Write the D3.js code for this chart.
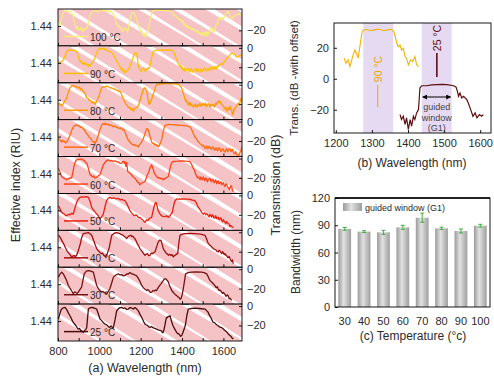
<!DOCTYPE html>
<html><head><meta charset="utf-8">
<script src="https://cdn.jsdelivr.net/npm/d3@7"></script>
<style>body{margin:0;background:#fff}svg{display:block}</style>
</head><body>
<svg id="c" width="494" height="379"></svg>
<script>
// ---------------- DATA ----------------
const rowLabels = ["100 °C","90 °C","80 °C","70 °C","60 °C","50 °C","40 °C","30 °C","25 °C"];
const rowColors = ["#f6ec7a","#ffbf00","#ff9a00","#ff6c10","#ff4314","#e8200e","#a30f0f","#741212","#4a0d0d"];
const xTicksA = [800,900,1000,1100,1200,1300,1400,1500,1600];
const xLabelsA = [800,1000,1200,1400,1600];
const indexTicks = [1.44];
const dbTicks = [-20, 0];

const s100 = [[809,-15],[814,-11],[818,-8],[822,-4],[826,-1.5],[834,0],[842,0.3],[850,-0.5],[858,-0.4],[866,-1.4],[870,-4],[874,-6.6],[878,-10],[882,-13.4],[886,-16],[890,-18.6],[894,-16.5],[898,-17.5],[902,-20],[906,-19.6],[910,-17],[914,-18],[918,-20.5],[922,-21],[926,-18],[930,-19],[935,-17],[939,-18.6],[943,-16],[947,-13.4],[951,-9],[955,-4.9],[960,-2],[966,-0.4],[976,0],[987,0.3],[995,-1.5],[1000,-0.5],[1005,1.5],[1011,1],[1017,-0.5],[1022,0],[1030,1],[1035,-0.4],[1042,0.5],[1048,-1.5],[1055,0],[1060,-1.1],[1066,-2.5],[1072,-4.9],[1078,-9],[1084,-13.4],[1090,-16],[1095,-15],[1100,-18.6],[1106,-17],[1110,-21],[1116,-21],[1121,-18],[1127,-17.5],[1132,-20],[1137,-22],[1142,-16],[1148,-10],[1153,-5],[1159,-1.4],[1164,-1.5],[1169,-3.1],[1175,-5],[1180,-8.3],[1186,-12],[1192,-16.9],[1196,-19],[1200,-21],[1204,-20],[1208,-23.7],[1214,-25],[1218,-23],[1221,-27.2],[1225,-25],[1228,-24],[1234,-22],[1240,-16],[1245,-10],[1250,-4],[1256,-0.4],[1270,0.5],[1285,1],[1300,0.5],[1318,0.3],[1333,0],[1346,-0.4],[1352,-1.5],[1358,-3.1],[1366,-5],[1374,-6.6],[1380,-7],[1386,-9],[1392,-8.5],[1398,-11.7],[1404,-10],[1410,-14.5],[1416,-13],[1422,-16.9],[1428,-15],[1434,-18],[1440,-17],[1446,-19.6],[1452,-18],[1458,-20.5],[1464,-19],[1471,-22],[1477,-20],[1483,-24],[1489,-22.5],[1495,-25.4],[1499,-23],[1503,-22],[1507,-25],[1511,-23],[1515,-21],[1519,-26],[1523,-22],[1527,-24.4],[1531,-21],[1535,-20],[1539,-18],[1543,-16.9],[1547,-20],[1550,-22],[1556,-21],[1560,-17],[1564,-15],[1568,-13],[1572,-11.7],[1578,-8],[1583,-6.6],[1587,-8],[1591,-9],[1596,-7],[1600,-8.3],[1606,-5],[1611,-3.1],[1618,-1],[1624,-0.4],[1628,-3],[1632,-5],[1636,-7],[1640,-8.3],[1648,-6],[1656,-4.9],[1665,-3.5],[1675,-3.1],[1685,-4.5],[1690,-5.9]];
const s90 = [[803,-15],[809,-15.8],[818,-14],[826,-12.4],[834,-8],[842,-3.8],[850,-2.5],[858,-2.1],[870,-2.5],[882,-2.8],[889,-3.5],[895,-5.5],[900,-10],[906,-14.1],[910,-13],[914,-16],[918,-15],[922,-17.5],[926,-15],[930,-15.5],[935,-18],[939,-16.5],[943,-17],[947,-19],[951,-17],[955,-18.5],[959,-17.5],[963,-16],[967,-15],[971,-14.1],[979,-10],[987,-5.5],[995,-2],[1003,-0.4],[1009,-1.5],[1015,-1],[1021,0],[1027,-2.1],[1034,-1.5],[1040,-3],[1051,-3.8],[1060,-5],[1068,-7.2],[1076,-10],[1084,-14.1],[1090,-15.5],[1096,-18],[1102,-20],[1108,-22.7],[1112,-21.5],[1116,-24.5],[1120,-23.5],[1124,-26.1],[1128,-24.5],[1132,-24],[1136,-23],[1140,-22.7],[1150,-18],[1159,-12.4],[1166,-8],[1172,-5.5],[1177,-5],[1182,-7.2],[1188,-17.5],[1195,-22],[1201,-24.4],[1207,-22],[1213,-21],[1217,-23],[1221,-24],[1225,-21.5],[1229,-22.7],[1233,-21],[1237,-20.5],[1241,-21.5],[1245,-19.2],[1251,-12],[1258,-5.5],[1264,-3.5],[1269,-2.8],[1285,-2.4],[1301,-2.1],[1320,-2.5],[1342,-2.1],[1350,-2.8],[1358,-3.8],[1366,-8],[1374,-12.4],[1382,-16.5],[1390,-19.2],[1394,-18],[1398,-21.5],[1402,-20],[1406,-22.7],[1410,-24],[1414,-20.5],[1418,-22],[1422,-23.5],[1426,-21],[1430,-22],[1434,-24],[1438,-25],[1442,-21.5],[1446,-22.5],[1450,-25],[1454,-24.4],[1458,-22],[1462,-21.5],[1466,-23],[1470,-24.5],[1474,-21],[1479,-22.7],[1483,-24],[1487,-25],[1491,-22],[1495,-21.8],[1499,-24],[1503,-23.4],[1507,-21],[1511,-21],[1515,-23],[1519,-24],[1523,-21.5],[1527,-22],[1531,-23.5],[1535,-20],[1539,-21],[1543,-23],[1547,-20],[1551,-21],[1555,-22],[1559,-19],[1563,-20.5],[1567,-21.5],[1571,-18.5],[1575,-19.2],[1579,-18],[1583,-17],[1588,-16.5],[1592,-15.8],[1596,-17],[1600,-16.5],[1604,-14],[1608,-14.1],[1612,-12],[1616,-11],[1620,-10],[1624,-9],[1632,-7],[1640,-5.5],[1648,-6],[1656,-7.2],[1664,-9.5],[1672,-9],[1682,-7.5],[1690,-8.3]];
const s80 = [[802,-20.3],[806,-19],[810,-21],[814,-20],[818,-22],[822,-21],[826,-19.5],[834,-16.5],[842,-13.5],[850,-8],[858,-3.2],[866,-1.5],[874,-0.8],[880,-2],[886,-1.5],[892,-3],[898,-3.2],[904,-2.5],[910,-5],[916,-4.5],[922,-6.6],[930,-9],[939,-13.5],[945,-14],[951,-16.5],[957,-16],[963,-18.6],[967,-17.5],[971,-19],[975,-18],[979,-20.3],[987,-17],[995,-13.5],[1003,-8],[1011,-3.2],[1019,-2],[1027,-2.5],[1035,-1.5],[1043,-2.1],[1051,-3.5],[1060,-3],[1068,-4.5],[1076,-4.2],[1082,-5.8],[1088,-5.5],[1094,-7],[1100,-6.6],[1108,-10],[1116,-15.2],[1122,-17],[1128,-20],[1134,-21],[1140,-23.8],[1146,-23],[1152,-25.5],[1158,-24.5],[1164,-27.2],[1170,-25],[1176,-24],[1182,-23],[1188,-22],[1198,-15],[1208,-8.3],[1213,-5],[1217,-3.2],[1223,-4],[1229,-6.6],[1235,-14],[1240,-20.3],[1246,-18],[1253,-15.2],[1260,-10],[1266,-6.6],[1272,-2],[1277,0.3],[1300,1],[1334,1.3],[1360,0.8],[1382,0.3],[1390,-1],[1398,-3.2],[1408,-10],[1413,-14],[1417,-16.9],[1421,-16],[1425,-18.5],[1429,-20],[1432,-21],[1436,-18],[1440,-19],[1443,-21.5],[1446,-20.3],[1450,-22],[1455,-23],[1459,-21],[1463,-20],[1467,-23],[1471,-22.5],[1475,-20],[1479,-22],[1483,-21],[1487,-19],[1491,-22],[1495,-21.5],[1499,-20],[1503,-19],[1507,-21.5],[1511,-20.3],[1515,-19],[1519,-22.5],[1523,-21],[1527,-19.5],[1531,-21],[1535,-23],[1539,-20],[1543,-22],[1547,-21],[1551,-20],[1555,-23],[1559,-22.5],[1563,-19],[1567,-20.3],[1571,-18],[1575,-17],[1579,-18.5],[1583,-16.9],[1587,-19],[1591,-20],[1596,-21],[1600,-22],[1604,-24],[1608,-25],[1612,-23],[1616,-27.2],[1620,-25],[1624,-24],[1628,-26],[1632,-22],[1636,-25],[1640,-26],[1644,-31],[1648,-28.9],[1652,-26],[1656,-24],[1660,-23],[1664,-22],[1668,-20],[1672,-19],[1676,-21],[1680,-18.6],[1685,-14],[1690,-16.9]];
const s70 = [[802,-17.5],[806,-18.5],[810,-19],[814,-20.5],[818,-21],[822,-19.5],[826,-20.5],[830,-20],[836,-22],[842,-21],[850,-18],[858,-14.1],[866,-9],[874,-5.5],[882,-4],[890,-3.1],[896,-4.5],[902,-4],[908,-6],[914,-5.5],[920,-7],[926,-8],[932,-10.5],[939,-12.4],[945,-14],[951,-16],[957,-17],[963,-19.2],[967,-20.5],[971,-21],[975,-20.5],[979,-22.7],[983,-21],[987,-19],[995,-14.1],[1003,-8],[1011,-3.8],[1017,-2],[1023,-3],[1029,-1.5],[1035,-3.1],[1042,-2.5],[1050,-4],[1058,-3.5],[1068,-5.5],[1076,-4.5],[1084,-6],[1092,-6.5],[1100,-7.2],[1106,-6.5],[1112,-8.5],[1118,-8],[1124,-10.7],[1132,-15],[1140,-19.2],[1146,-20.5],[1152,-22],[1158,-23.5],[1164,-24.4],[1170,-23.5],[1176,-25],[1182,-24.5],[1188,-26.1],[1194,-24],[1200,-22.5],[1207,-20],[1213,-17.5],[1221,-12],[1229,-7.2],[1235,-8],[1240,-10.7],[1246,-16],[1253,-21],[1257,-22],[1261,-23],[1265,-22.5],[1269,-24.4],[1273,-23.5],[1277,-25],[1281,-24],[1285,-26.1],[1289,-25],[1293,-23],[1297,-21],[1301,-19.2],[1309,-10],[1317,-3.8],[1333,-3],[1350,-3.1],[1375,-3.5],[1398,-3.8],[1420,-4.5],[1438,-5.5],[1444,-7],[1450,-10],[1456,-13],[1462,-15.8],[1468,-17],[1475,-20],[1481,-21],[1487,-22.7],[1493,-24],[1499,-25],[1503,-24],[1507,-26],[1511,-27.8],[1515,-26.5],[1519,-25],[1523,-28],[1527,-27.5],[1531,-25.5],[1535,-26.1],[1539,-28],[1543,-28.5],[1547,-26.5],[1551,-26],[1555,-29],[1559,-29.5],[1563,-27],[1567,-27],[1571,-30],[1575,-29],[1579,-27],[1583,-27.8],[1588,-31],[1592,-30],[1596,-28],[1600,-28.5],[1604,-31],[1608,-31.2],[1612,-29],[1616,-28],[1620,-31],[1624,-30],[1628,-28],[1632,-27.8],[1636,-31],[1640,-30],[1644,-28.5],[1648,-31],[1652,-33],[1656,-32.9],[1660,-31],[1664,-34],[1668,-36],[1672,-36],[1678,-33],[1685,-29.5],[1690,-26]];
const s60 = [[802,-10],[806,-12],[810,-14],[814,-16.5],[818,-18.5],[824,-19.5],[830,-20.5],[836,-21],[842,-22],[848,-20.5],[854,-21],[860,-19.5],[866,-20.3],[872,-14],[879,-6.5],[885,-3],[890,-1.4],[902,-0.8],[914,-0.4],[920,-1.5],[926,-2],[932,-3.5],[939,-4.8],[947,-10],[955,-16.8],[961,-17.5],[967,-19],[973,-18],[979,-20.3],[985,-19.5],[991,-18.5],[997,-17.5],[1003,-16.8],[1011,-12],[1019,-6.5],[1031,-3],[1043,-1.4],[1052,-2.5],[1060,-2],[1068,-3],[1076,-2.4],[1084,-3.5],[1092,-3.5],[1100,-5],[1108,-4.8],[1112,-3.5],[1116,-3],[1120,-5],[1124,-3.1],[1128,-8],[1132,-4],[1137,-13.4],[1142,-14],[1148,-15.1],[1154,-16.5],[1160,-18],[1166,-19.5],[1172,-20.3],[1178,-22],[1184,-24],[1190,-25],[1196,-27.1],[1202,-25.5],[1208,-25],[1214,-24.5],[1221,-23.7],[1230,-18],[1240,-13.4],[1246,-9],[1253,-6.5],[1259,-10],[1266,-15.1],[1270,-16.5],[1275,-18],[1280,-19.5],[1285,-20.3],[1291,-19.5],[1297,-21],[1303,-20.5],[1309,-22],[1315,-21],[1321,-20],[1327,-19.5],[1334,-18.5],[1340,-12],[1346,-6.5],[1352,-4],[1358,-3.1],[1378,-2.8],[1398,-2.4],[1418,-2.8],[1438,-3.1],[1446,-6],[1454,-10],[1458,-11],[1462,-14],[1466,-16],[1471,-18.5],[1475,-20],[1479,-19],[1483,-20],[1487,-22],[1491,-19],[1495,-21],[1499,-22],[1503,-19],[1507,-21],[1511,-23],[1515,-20],[1519,-21],[1523,-24],[1527,-22],[1531,-21],[1535,-20.5],[1539,-23],[1543,-24],[1547,-21.5],[1551,-22],[1555,-25],[1559,-23.7],[1563,-22],[1567,-26],[1571,-24],[1575,-23],[1579,-26],[1583,-25.4],[1588,-24],[1592,-27],[1596,-26],[1600,-25],[1604,-28],[1608,-28.8],[1612,-26],[1616,-27],[1620,-29],[1624,-30],[1628,-32],[1632,-30.5],[1636,-28],[1640,-29],[1644,-33],[1648,-34]];
const s50 = [[802,-10.7],[806,-12],[810,-14],[814,-16],[818,-17.5],[824,-18.5],[830,-19],[836,-20.5],[842,-21],[850,-19.5],[858,-20],[866,-18.5],[874,-19.2],[882,-13],[890,-7.2],[898,-4],[906,-2.1],[916,-1.5],[926,-1.8],[936,-1.2],[947,-2.1],[955,-6],[963,-12.4],[969,-14.5],[975,-16],[981,-17.5],[987,-19.2],[991,-20],[995,-21],[999,-22.5],[1003,-24.4],[1007,-23],[1011,-22],[1015,-21],[1019,-19.2],[1027,-12],[1035,-5.5],[1043,-3],[1051,-2.1],[1060,-3],[1070,-2.5],[1080,-3.5],[1092,-3.1],[1100,-4.5],[1108,-4],[1116,-5],[1124,-5.5],[1130,-7.5],[1136,-10],[1142,-13],[1148,-15.8],[1154,-17.5],[1160,-19],[1166,-20.5],[1172,-21],[1178,-20],[1184,-21.5],[1190,-23],[1196,-22.7],[1202,-24],[1208,-25],[1214,-26.5],[1221,-27.8],[1226,-26],[1230,-25],[1235,-26],[1240,-24.4],[1247,-23],[1253,-22.7],[1260,-16],[1266,-10.7],[1270,-8],[1274,-7.2],[1279,-11],[1285,-15.8],[1289,-17.5],[1293,-19],[1297,-20],[1301,-21],[1309,-21.5],[1317,-22],[1325,-21],[1334,-22.7],[1339,-21.5],[1344,-20],[1353,-17.5],[1358,-12],[1363,-7.2],[1368,-5],[1374,-3.8],[1400,-3.5],[1430,-3.8],[1446,-4.5],[1462,-5.5],[1470,-8],[1479,-12.4],[1485,-14],[1491,-16],[1497,-18],[1503,-19.2],[1509,-18],[1515,-20],[1521,-19],[1527,-21],[1531,-22],[1535,-19.5],[1539,-21],[1543,-22.5],[1547,-20],[1551,-21],[1555,-23.5],[1559,-22.7],[1563,-21],[1567,-24],[1571,-23],[1575,-22.5],[1579,-25],[1583,-24.4],[1588,-23],[1592,-26],[1596,-27],[1600,-25],[1604,-26.5],[1608,-27.8],[1612,-29],[1616,-27],[1620,-28.5],[1627,-29.5],[1632,-32],[1636,-31],[1642,-32.5],[1648,-33]];
const s40 = [[802,-3.1],[810,-5],[818,-8.3],[824,-10.5],[830,-13],[836,-16],[842,-18.5],[848,-20.5],[854,-22],[860,-23.5],[866,-25.4],[872,-24.5],[878,-24],[884,-25],[890,-23.7],[898,-19],[906,-13.4],[914,-6],[922,-1.4],[935,-0.8],[947,-0.4],[955,-1.5],[963,-3.1],[969,-6.5],[975,-10],[981,-13.5],[987,-16.8],[993,-18.5],[999,-20],[1005,-21.5],[1011,-22],[1016,-21.5],[1020,-23.5],[1025,-24],[1030,-25.4],[1034,-24],[1038,-22],[1047,-16.8],[1054,-9],[1060,-3.1],[1072,-1],[1084,-0.4],[1096,-1.2],[1108,-2.4],[1114,-3],[1120,-4],[1126,-5],[1132,-6.5],[1137,-5],[1142,-4],[1148,-3.5],[1153,-3.1],[1158,-4.5],[1162,-4],[1167,-5.5],[1172,-6.5],[1178,-9],[1184,-12],[1190,-14],[1196,-16.8],[1202,-18.5],[1208,-20],[1214,-22],[1221,-23.7],[1227,-22.5],[1233,-22],[1239,-24],[1245,-23.7],[1251,-21.5],[1257,-22],[1263,-21],[1269,-20.3],[1277,-15],[1285,-10],[1291,-8],[1298,-8.3],[1303,-12],[1309,-16.8],[1315,-19],[1321,-21],[1327,-22],[1334,-23.7],[1340,-22.5],[1346,-24],[1352,-23],[1358,-25.4],[1363,-24],[1368,-23.5],[1374,-22.5],[1379,-22],[1384,-12],[1390,-3.1],[1402,-2],[1414,-1.4],[1440,-1.2],[1462,-1.4],[1490,-2],[1511,-3.1],[1519,-7],[1527,-11.7],[1533,-13],[1539,-14],[1545,-15.5],[1551,-16.8],[1557,-17.5],[1563,-18],[1569,-19.5],[1575,-20.3],[1579,-18.5],[1583,-19],[1588,-21],[1592,-22],[1596,-20],[1600,-21],[1604,-23],[1608,-22],[1612,-23.5],[1616,-24],[1620,-26],[1624,-26],[1628,-25],[1632,-27.1],[1636,-29],[1640,-30],[1644,-28.5],[1648,-32.3]];
const s30 = [[802,-8.2],[810,-5],[818,-3.1],[826,-5],[834,-8.2],[842,-12],[850,-16.8],[856,-19],[862,-21],[868,-23],[874,-25.4],[880,-23.5],[886,-24],[892,-25],[898,-23.7],[906,-21],[914,-18.5],[920,-12],[927,-4.8],[937,-2],[947,-1.4],[959,-2],[971,-3.1],[979,-10],[987,-16.8],[993,-19],[999,-21],[1005,-22.5],[1011,-23.7],[1017,-23],[1023,-24],[1029,-24.5],[1035,-25.4],[1039,-24],[1043,-23],[1051,-20.2],[1060,-14],[1068,-8.2],[1080,-6],[1092,-4.8],[1100,-6],[1108,-5.5],[1116,-7],[1124,-6.5],[1132,-5],[1140,-5],[1148,-3.5],[1156,-4.8],[1163,-5],[1170,-6],[1178,-6.5],[1185,-8.2],[1195,-12],[1205,-16.8],[1211,-18.5],[1217,-20],[1223,-21],[1229,-22],[1235,-21],[1241,-22.5],[1247,-24],[1253,-23.7],[1259,-22],[1265,-22.5],[1271,-21.5],[1277,-22],[1283,-19.5],[1288,-18],[1293,-16.5],[1298,-15.1],[1303,-13.5],[1308,-12],[1313,-10.5],[1317,-9.9],[1322,-10],[1326,-11],[1330,-12],[1334,-13.4],[1338,-16],[1342,-18],[1346,-20],[1350,-22],[1356,-23.5],[1362,-25],[1368,-26.5],[1374,-27.1],[1379,-28.5],[1385,-29],[1390,-31],[1395,-30.5],[1401,-26],[1406,-20.2],[1412,-12],[1417,-4.8],[1430,-3.5],[1446,-3.1],[1470,-2.8],[1495,-3.1],[1507,-3.5],[1519,-4.8],[1527,-8],[1531,-10],[1535,-11.6],[1541,-13],[1547,-14],[1553,-15.5],[1559,-16.8],[1563,-18.5],[1567,-19],[1571,-18],[1575,-20.5],[1579,-22],[1583,-21.5],[1588,-22.5],[1592,-23.7],[1596,-25],[1600,-24],[1604,-25],[1608,-26],[1612,-28],[1616,-27.1],[1620,-26.5],[1624,-28],[1628,-30.5],[1632,-30],[1636,-31],[1640,-32.2]];
const s25 = [[802,-13.4],[806,-10],[810,-7],[814,-4.5],[818,-3.1],[826,-1.8],[834,-1.4],[843,-4],[853,-8.3],[858,-10],[863,-12],[868,-14.5],[874,-16.9],[880,-18.5],[886,-20],[892,-22],[898,-23.7],[904,-23],[910,-25],[916,-25.5],[922,-27.1],[926,-26],[930,-25],[935,-24],[939,-22],[943,-12],[947,-3.1],[955,-1.8],[963,-1.4],[975,-2],[987,-3.1],[995,-8],[1003,-13.4],[1009,-14.5],[1015,-16],[1021,-17.5],[1027,-18.6],[1033,-19],[1039,-20],[1045,-21.5],[1051,-22],[1056,-20.5],[1060,-21],[1064,-23],[1068,-22],[1076,-14],[1084,-4.8],[1096,-2],[1108,-1.4],[1116,-2.5],[1124,-2],[1132,-3.5],[1140,-3.1],[1148,-1.5],[1156,-2],[1164,-3],[1172,-1.4],[1178,-2.5],[1184,-4],[1190,-5.5],[1196,-8.3],[1202,-10.5],[1208,-13],[1214,-16],[1221,-18.6],[1227,-19.5],[1233,-20],[1239,-21.5],[1245,-22],[1253,-21],[1261,-22.5],[1269,-23],[1277,-23.7],[1285,-24.5],[1293,-25],[1301,-25.5],[1305,-27.5],[1309,-27.1],[1313,-24],[1317,-20],[1321,-15],[1325,-11.7],[1329,-12],[1333,-10.5],[1337,-11],[1342,-10],[1347,-14],[1353,-18.6],[1358,-21],[1363,-23],[1368,-25],[1374,-27.1],[1380,-28.5],[1386,-29],[1392,-31],[1398,-30.6],[1403,-28],[1408,-25],[1413,-22],[1417,-18.6],[1423,-10],[1430,-3.1],[1446,-2.5],[1462,-2.1],[1486,-2.5],[1511,-3.1],[1520,-5],[1525,-6],[1530,-8.3],[1535,-10.5],[1540,-12],[1545,-14.5],[1551,-16.9],[1557,-17],[1563,-18.5],[1569,-19.5],[1575,-20.3],[1581,-21.5],[1588,-22],[1594,-22.5],[1600,-23.7],[1606,-25],[1612,-26],[1618,-27],[1624,-28.9],[1630,-30],[1636,-31],[1642,-33],[1648,-34]];
const spectra = [s100,s90,s80,s70,s60,s50,s40,s30,s25];

// effective-index bands (wavelength where band crosses row top, nm)
const bandStart = [330, 500, 695, 860, 1060, 1220, 1395, 1555, 1730];
const bandEnd   = [475, 655, 820, 1010, 1185, 1355, 1510, 1660, 1830];
const rowShift  = [0, 30, -20, 40, 10, -30, 20, 0, 35];
const driftStart = 285; // nm shift of band edges across one row height
const driftEnd   = 305;

// panel (b)
const spec90 = [[1223,13.3],[1228,10],[1234,12.2],[1239,7.9],[1243,11.1],[1248,15.4],[1253,18.6],[1257,16.5],[1262,13.3],[1268,22.9],[1272,29.3],[1276,31.4],[1285,31.8],[1295,31.2],[1304,31.4],[1313,31.9],[1322,31.8],[1332,31.2],[1341,31.4],[1350,31.9],[1355,31.8],[1361,30.3],[1365,27.1],[1369,22.9],[1373,20.7],[1378,21.8],[1382,18.6],[1387,19.7],[1392,14.3],[1396,13.3],[1401,9],[1407,12.2],[1413,11.1],[1419,14.3],[1424,9],[1429,7.9]];
const spec25 = [[1378,-23.1],[1382,-26.3],[1387,-24.2],[1392,-29.5],[1396,-25.2],[1401,-32.7],[1406,-26.3],[1410,-30.6],[1415,-24.2],[1419,-26.3],[1424,-22],[1429,-19.9],[1431,-13.5],[1433,-6],[1438,-4.5],[1452,-4.5],[1466,-4],[1480,-3.8],[1494,-3.6],[1508,-3.8],[1526,-4.5],[1533,-5.3],[1537,-8.1],[1540,-11.3],[1544,-9.2],[1549,-12.4],[1554,-11.3],[1563,-13.5],[1567,-15.6],[1572,-18.8],[1580,-24.2],[1586,-22],[1591,-25.2],[1598,-23.1],[1604,-24.2],[1609,-23.1]];
const guideBands = [[1276,1359],[1438,1521]];
const xTicksB = [1200,1300,1400,1500,1600];
const yTicksB = [-20,0,20];

// panel (c)
const temps = [30,40,50,60,70,80,90,100];
const bandwidth = [86,83,82.2,87.7,98.3,86.6,83.7,89.5];
const bwErr = [1.5,1,2.2,2.2,5,1.2,2.2,1.5];
const yTicksC = [0,30,60,90,120];

// ---------------- DRAW ----------------
const F = "'Liberation Sans', Arial, Helvetica, sans-serif";
const TXT = "#2b2b2b";
const PINK = "#f5c2c6";
const svg = d3.select("#c").style("font-family", F);
const defs = svg.append("defs");

// ---- panel (a)
const A = {left:58, right:242, top:9, bottom:341};
const rowH = (A.bottom - A.top) / rowLabels.length;
const xA = d3.scaleLinear().domain([800,1690]).range([A.left, A.right]);
const dbDomain = [-36, 2];
const nDomain = [1.4300, 1.4485];

function styleAxis(g, fs){
  g.select(".domain").remove();
  g.selectAll(".tick line").attr("stroke","#000").attr("stroke-width",0.9);
  g.selectAll(".tick text").attr("fill",TXT).style("font-size",fs+"px").style("font-family",F);
}

rowLabels.forEach((lab,i)=>{
  const top = A.top + i*rowH, bot = top + rowH;
  const y = d3.scaleLinear().domain(dbDomain).range([bot, top]);
  const n = d3.scaleLinear().domain(nDomain).range([bot, top]);
  const cid = "clipA"+i;
  defs.append("clipPath").attr("id",cid).append("rect")
    .attr("x",A.left).attr("y",top).attr("width",A.right-A.left).attr("height",rowH);
  const inner = svg.append("g").attr("clip-path",`url(#${cid})`);
  bandStart.forEach((a,k)=>{
    const s = rowShift[i];
    const pts = [[a+s,nDomain[1]],[bandEnd[k]+s,nDomain[1]],[bandEnd[k]+s+driftEnd,nDomain[0]],[a+s+driftStart,nDomain[0]]];
    inner.append("polygon").attr("points", pts.map(p=>[xA(p[0]),n(p[1])].join(",")).join(" ")).attr("fill",PINK);
  });
  inner.append("path").datum(spectra[i])
    .attr("d", d3.line().x(d=>xA(d[0])).y(d=>y(d[1])))
    .attr("fill","none").attr("stroke",rowColors[i]).attr("stroke-width",1.3).attr("stroke-linejoin","round");
  // legend
  svg.append("line").attr("x1",64).attr("x2",88).attr("y1",top+27.5).attr("y2",top+27.5)
    .attr("stroke",rowColors[i]).attr("stroke-width",1.5);
  svg.append("text").attr("x",90).attr("y",top+32).text(lab).attr("fill",TXT).style("font-size","10px");
  // frame
  svg.append("rect").attr("x",A.left).attr("y",top).attr("width",A.right-A.left).attr("height",rowH)
    .attr("fill","none").attr("stroke","#000").attr("stroke-width",0.9);
  // axes
  const last = i === rowLabels.length-1;
  const gx = svg.append("g").attr("transform",`translate(0,${bot})`)
    .call(d3.axisBottom(xA).tickValues(xTicksA).tickSize(-3).tickPadding(6)
      .tickFormat(d => last && xLabelsA.includes(d) ? d : ""));
  styleAxis(gx, 11);
  const gl = svg.append("g").attr("transform",`translate(${A.left},0)`)
    .call(d3.axisLeft(n).tickValues(indexTicks).tickSize(-3).tickPadding(6).tickFormat(d3.format(".2f")));
  styleAxis(gl, 11);
  const gr = svg.append("g").attr("transform",`translate(${A.right},0)`)
    .call(d3.axisRight(y).tickValues(i===0 ? [dbTicks[0]] : dbTicks).tickSize(-3).tickPadding(5));
  styleAxis(gr, 11);
});
svg.append("text").attr("transform",`translate(20,${(A.top+A.bottom)/2+10}) rotate(-90)`)
  .attr("text-anchor","middle").attr("fill",TXT).style("font-size","12.5px").text("Effective index (RIU)");
svg.append("text").attr("transform",`translate(280,185) rotate(-90)`)
  .attr("text-anchor","middle").attr("fill",TXT).style("font-size","12.5px").text("Transmission (dB)");
svg.append("text").attr("x",145).attr("y",372).attr("text-anchor","middle").attr("fill",TXT)
  .style("font-size","12.5px").text("(a) Wavelength (nm)");

// ---- panel (b)
const B = {left:334, right:491, top:23, bottom:133};
const xB = d3.scaleLinear().domain([1195,1630]).range([B.left,B.right]);
const yB = d3.scaleLinear().domain([-35,36]).range([B.bottom,B.top]);
const gB = svg.append("g");
guideBands.forEach(b=>{
  gB.append("rect").attr("x",xB(b[0])).attr("width",xB(b[1])-xB(b[0]))
    .attr("y",B.top).attr("height",B.bottom-B.top).attr("fill","#e6daf3");
});
const lineB = d3.line().x(d=>xB(d[0])).y(d=>yB(d[1]));
gB.append("path").datum(spec90).attr("d",lineB).attr("fill","none").attr("stroke","#f2b300").attr("stroke-width",1.1);
gB.append("path").datum(spec25).attr("d",lineB).attr("fill","none").attr("stroke","#5e0f0f").attr("stroke-width",1.2);
gB.append("rect").attr("x",B.left).attr("y",B.top).attr("width",B.right-B.left).attr("height",B.bottom-B.top)
  .attr("fill","none").attr("stroke","#000").attr("stroke-width",0.9);
const gxB = gB.append("g").attr("transform",`translate(0,${B.bottom})`)
  .call(d3.axisBottom(xB).tickValues(xTicksB).tickSize(-3).tickPadding(6).tickFormat(d3.format("d")));
styleAxis(gxB, 11);
const gyB = gB.append("g").attr("transform",`translate(${B.left},0)`)
  .call(d3.axisLeft(yB).tickValues(yTicksB).tickSize(-3).tickPadding(5));
styleAxis(gyB, 11);
gB.append("text").attr("transform",`translate(298,78) rotate(-90)`).attr("text-anchor","middle")
  .attr("fill",TXT).style("font-size","11.5px").text("Trans. (dB -with offset)");
gB.append("text").attr("x",412).attr("y",167).attr("text-anchor","middle").attr("fill",TXT)
  .style("font-size","12px").text("(b) Wavelength (nm)");
// in-plot labels
const lbl90x = xB(1316), lbl25x = xB(1480);
gB.append("text").attr("transform",`translate(${lbl90x+4},69) rotate(-90)`).attr("text-anchor","middle")
  .attr("fill","#e8a800").style("font-size","10.5px").text("90 °C");
gB.append("line").attr("x1",lbl90x).attr("x2",lbl90x).attr("y1",85).attr("y2",107).attr("stroke","#f2b300").attr("stroke-width",1.2);
gB.append("text").attr("transform",`translate(${lbl25x+4},38) rotate(-90)`).attr("text-anchor","middle")
  .attr("fill","#5e0f0f").style("font-size","10.5px").text("25 °C");
gB.append("line").attr("x1",lbl25x).attr("x2",lbl25x).attr("y1",53).attr("y2",77).attr("stroke","#5e0f0f").attr("stroke-width",1.6);
defs.append("marker").attr("id","arr").attr("viewBox","0 0 10 10").attr("refX",9).attr("refY",5)
  .attr("markerWidth",5).attr("markerHeight",5).attr("orient","auto-start-reverse")
  .append("path").attr("d","M0,0L10,5L0,10z").attr("fill","#000");
gB.append("line").attr("x1",xB(guideBands[1][0])+1).attr("x2",xB(guideBands[1][1])-1).attr("y1",97).attr("y2",97)
  .attr("stroke","#000").attr("stroke-width",1).attr("marker-start","url(#arr)").attr("marker-end","url(#arr)");
["guided","window","(G1)"].forEach((t,k)=>{
  gB.append("text").attr("x",(xB(guideBands[1][0])+xB(guideBands[1][1]))/2).attr("y",110+k*10.5)
    .attr("text-anchor","middle").attr("fill","#444").style("font-size","9px").text(t);
});

// ---- panel (c)
const C = {left:335, right:490, top:198, bottom:307};
const xC = d3.scaleBand().domain(temps).range([C.left,C.right]).paddingInner(0.34).paddingOuter(0.17);
const yC = d3.scaleLinear().domain([0,120]).range([C.bottom,C.top]);
const grad = defs.append("linearGradient").attr("id","barg").attr("x1","0").attr("x2","1").attr("y1","0").attr("y2","0");
[[0,"#9a9a9a"],[0.42,"#e2e2e2"],[1,"#9e9e9e"]].forEach(s=>grad.append("stop").attr("offset",s[0]).attr("stop-color",s[1]));
const gC = svg.append("g");
temps.forEach((t,k)=>{
  gC.append("rect").attr("x",xC(t)).attr("width",xC.bandwidth()).attr("y",yC(bandwidth[k]))
    .attr("height",yC(0)-yC(bandwidth[k])).attr("fill","url(#barg)");
  const cx = xC(t)+xC.bandwidth()/2;
  const y1 = yC(bandwidth[k]+bwErr[k]), y2 = yC(bandwidth[k]-bwErr[k]);
  gC.append("line").attr("x1",cx).attr("x2",cx).attr("y1",y1).attr("y2",y2).attr("stroke","#3fae3f").attr("stroke-width",1);
  [y1,y2].forEach(yy=>gC.append("line").attr("x1",cx-2).attr("x2",cx+2).attr("y1",yy).attr("y2",yy).attr("stroke","#3fae3f").attr("stroke-width",1));
});
gC.append("rect").attr("x",C.left).attr("y",C.top).attr("width",C.right-C.left).attr("height",C.bottom-C.top)
  .attr("fill","none").attr("stroke","#000").attr("stroke-width",0.9);
gC.append("line").attr("x1",C.left).attr("x2",C.right).attr("y1",C.top).attr("y2",C.top).attr("stroke","#000").attr("stroke-width",1.6);
const gxC = gC.append("g").attr("transform",`translate(0,${C.bottom})`)
  .call(d3.axisBottom(xC).tickSize(0).tickPadding(10));
styleAxis(gxC, 11);
const gyC = gC.append("g").attr("transform",`translate(${C.left},0)`)
  .call(d3.axisLeft(yC).tickValues(yTicksC).tickSize(-3).tickPadding(5));
styleAxis(gyC, 11);
gC.append("rect").attr("x",343).attr("y",203).attr("width",19).attr("height",8).attr("fill","url(#barg)");
gC.append("text").attr("x",365).attr("y",210.5).attr("fill",TXT).style("font-size","9px").text("guided window (G1)");
gC.append("text").attr("transform",`translate(300,252) rotate(-90)`).attr("text-anchor","middle")
  .attr("fill",TXT).style("font-size","12px").text("Bandwidth (nm)");
gC.append("text").attr("x",413).attr("y",340).attr("text-anchor","middle").attr("fill",TXT)
  .style("font-size","12px").text("(c) Temperature (°c)");
</script>
</body></html>
